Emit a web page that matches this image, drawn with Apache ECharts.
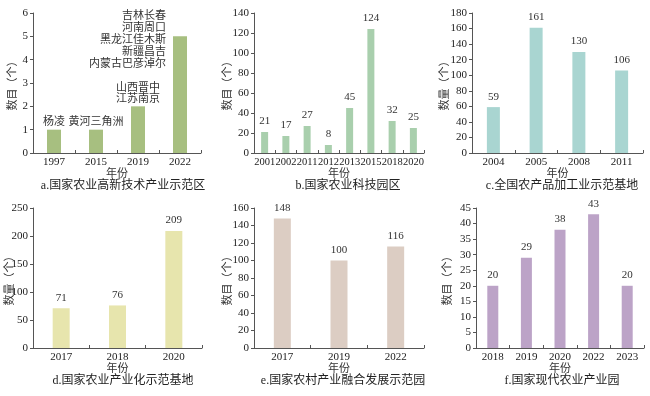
<!DOCTYPE html>
<html><head><meta charset="utf-8">
<script src="https://cdn.jsdelivr.net/npm/echarts@6/dist/echarts.min.js"></script>
<style>html,body{margin:0;padding:0;background:#fff}#c{width:650px;height:396px}</style>
</head><body><div id="c"></div>
<script>
// Panel a
const catA = ['1997','2015','2019','2022'];
const valA = [1,1,2,5];
const lblA = ['杨凌','黄河三角洲','山西晋中\n江苏南京','吉林长春\n河南周口\n黑龙江佳木斯\n新疆昌吉\n内蒙古巴彦淖尔'];
// Panel b
const catB = ['2001','2002','2011','2012','2013','2015','2018','2020'];
const valB = [21,17,27,8,45,124,32,25];
// Panel c
const catC = ['2004','2005','2008','2011'];
const valC = [59,161,130,106];
// Panel d
const catD = ['2017','2018','2020'];
const valD = [71,76,209];
// Panel e
const catE = ['2017','2019','2022'];
const valE = [148,100,116];
// Panel f
const catF = ['2018','2019','2020','2022','2023'];
const valF = [20,29,38,43,20];

const titles = ['a.国家农业高新技术产业示范区','b.国家农业科技园区','c.全国农产品加工业示范基地','d.国家农业产业化示范基地','e.国家农村产业融合发展示范园','f.国家现代农业产业园'];
const yNames = ['数目（个）','数目（个）','数量（个）','数量（个）','数目（个）','数目（个）'];

const FONT = '"Liberation Serif", "Noto Sans CJK SC", serif';
const TXT = '#333';
const AX = '#555';

const panels = [
  {cat:catA, val:valA, max:6, interval:1, color:'#a7bf80', grid:{left:33,top:13,width:168,height:140}, bw:14, nameGap:14, titleX:118, fs:11},
  {cat:catB, val:valB, max:140, interval:20, color:'#a9cfad', grid:{left:254,top:13,width:170,height:140}, bw:7, nameGap:20, titleX:343, fs:10.5},
  {cat:catC, val:valC, max:180, interval:20, color:'#a9d5d1', grid:{left:472,top:13,width:171,height:140}, bw:13, nameGap:21, titleX:557, fs:11},
  {cat:catD, val:valD, max:250, interval:50, color:'#e7e5ad', grid:{left:33,top:208,width:169,height:140}, bw:17, nameGap:17, titleX:118, fs:11},
  {cat:catE, val:valE, max:160, interval:20, color:'#dccdc3', grid:{left:254,top:208,width:170,height:140}, bw:17, nameGap:20, titleX:338, fs:11},
  {cat:catF, val:valF, max:45, interval:5, color:'#bca3c7', grid:{left:476,top:208,width:168,height:140}, bw:11, nameGap:22, titleX:557, fs:11}
];

const option = {
  animation:false,
  backgroundColor:'#fff',
  textStyle:{fontFamily:FONT},
  title: panels.map((p,i)=>({
    text:titles[i], left:p.titleX, top:p.grid.top+p.grid.height+22, textAlign:'center',
    textStyle:{fontSize:12, fontWeight:'normal', color:'#222', fontFamily:FONT}
  })),
  grid: panels.map(p=>p.grid),
  xAxis: panels.map((p,i)=>({
    type:'category', gridIndex:i, data:p.cat,
    name:'年份', nameLocation:'middle', nameGap:16, nameMoveOverlap:false,
    nameTextStyle:{fontSize:11, color:TXT, fontFamily:FONT},
    axisLine:{lineStyle:{color:AX, width:1}},
    axisTick:{show:true, inside:true, length:3, lineStyle:{color:AX}},
    axisLabel:{fontSize:p.fs, color:'#222', margin:4, fontFamily:FONT, interval:0}
  })),
  yAxis: panels.map((p,i)=>({
    type:'value', gridIndex:i, min:0, max:p.max, interval:p.interval,
    name:yNames[i], nameLocation:'middle', nameGap:p.nameGap, nameRotate:90, nameMoveOverlap:false,
    nameTextStyle:{fontSize:11, color:TXT, fontFamily:FONT},
    axisLine:{show:true, lineStyle:{color:AX, width:1}},
    axisTick:{show:true, length:3, lineStyle:{color:AX}},
    splitLine:{show:false},
    axisLabel:{fontSize:11, color:'#222', margin:5, fontFamily:FONT}
  })),
  series: panels.map((p,i)=>{
    const data = p.val.map((v,j)=>{
      const d = {value:v};
      if (i===0) {
        d.label = {formatter: lblA[j]};
        if (j===3) {
          d.label = {formatter: lblA[j], position:[-7,-26], align:'right', verticalAlign:'top', lineHeight:12};
        }
      }
      return d;
    });
    return {
      type:'bar', xAxisIndex:i, yAxisIndex:i, data:data, barWidth:p.bw,
      itemStyle:{color:p.color},
      label:{show:true, position:'top', distance:i===0?2:5, fontSize:11, color:'#333', fontFamily:FONT, lineHeight:11}
    };
  })
};
const chart = echarts.init(document.getElementById('c'), null, {renderer:'canvas'});
chart.setOption(option);
</script></body></html>
